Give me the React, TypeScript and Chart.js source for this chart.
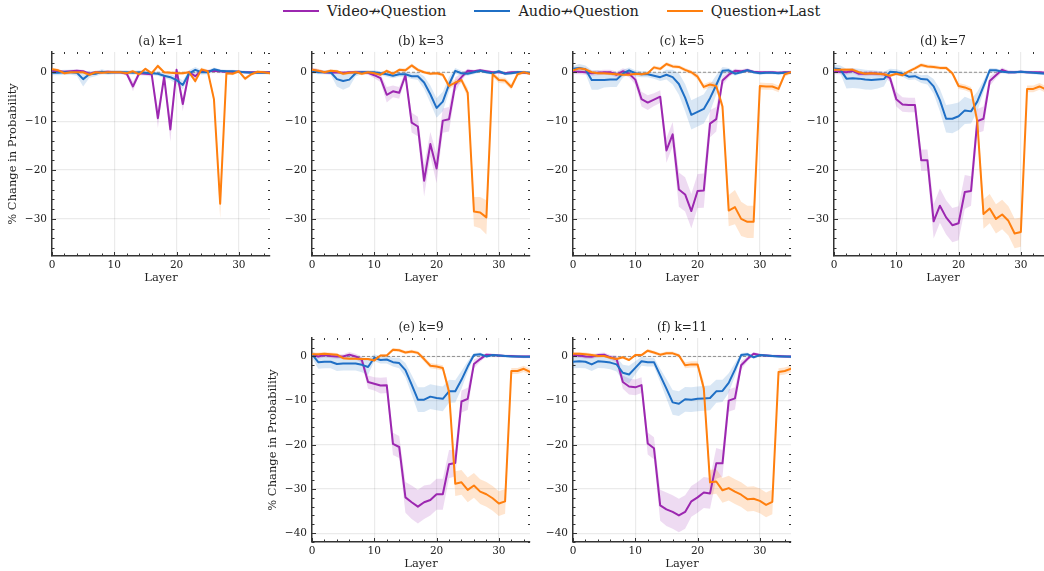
import React, { useEffect, useRef } from 'react';
import { Chart, registerables } from 'chart.js';

Chart.register(...registerables);

const FONT = "'DejaVu Serif', serif";
const TEXT = '#222222';

// ---------- categories / ticks ----------
const layers = [0,1,2,3,4,5,6,7,8,9,10,11,12,13,14,15,16,17,18,19,20,21,22,23,24,25,26,27,28,29,30,31,32,33,34,35];
const xTickValues = [0, 10, 20, 30];
const yTicksTop = [0, -10, -20, -30];
const yTicksBottom = [0, -10, -20, -30, -40];
const seriesNames = ['Video\u219BQuestion', 'Audio\u219BQuestion', 'Question\u219BLast'];
const seriesColors = ['#9C27B0', '#1F6FC5', '#FF7F0E'];
const bandColors = ['rgba(156,39,176,0.17)', 'rgba(31,111,197,0.17)', 'rgba(255,127,14,0.2)'];
const panelTitles = ['(a) k=1', '(b) k=3', '(c) k=5', '(d) k=7', '(e) k=9', '(f) k=11'];

// ---------- (a) k=1 ----------
const videoK1 = [0.3,0.2,0.1,0.2,0.3,0.2,-0.3,0.0,0.0,0.1,0.0,0.0,-0.3,-2.9,-0.2,-0.3,-0.4,-9.4,-0.9,-11.7,0.5,-6.5,0.0,-0.8,0.3,0.2,0.3,0.2,0.1,0.1,0.1,0.0,0.0,0.0,0.0,0.0];
const audioK1 = [-0.1,-0.1,0.0,0.0,-0.1,-1.4,-0.4,-0.3,0.1,-0.1,0.0,0.0,0.0,-0.1,0.0,-0.1,-0.2,-0.3,-0.7,-1.0,-1.6,-2.6,-0.2,0.5,0.0,0.0,0.6,0.3,0.2,0.2,0.1,0.0,-0.1,-0.1,-0.1,-0.1];
const lastK1 = [0.6,0.4,-0.2,0.0,0.0,0.0,-0.5,0.0,-0.1,0.0,0.0,0.0,-0.2,0.2,-0.4,0.7,-0.2,1.3,0.0,-0.1,-0.2,-0.2,0.0,-1.8,0.6,0.2,-5.5,-26.9,-0.2,-0.3,0.2,-1.3,-0.4,0.1,0.0,-0.2];
const videoErrK1 = [0.4,0.3,0.3,0.3,0.3,0.3,0.3,0.3,0.3,0.3,0.3,0.3,0.4,1.0,0.4,0.4,0.5,2.0,0.8,2.5,0.6,1.5,0.4,0.6,0.3,0.3,0.3,0.3,0.3,0.2,0.2,0.2,0.2,0.2,0.2,0.2];
const audioErrK1 = [0.5,0.5,0.5,0.5,0.6,1.5,0.7,0.5,0.5,0.4,0.4,0.4,0.4,0.4,0.4,0.4,0.4,0.4,0.5,0.6,0.8,0.9,0.6,0.6,0.5,0.4,0.4,0.3,0.3,0.3,0.3,0.3,0.3,0.3,0.3,0.3];
const lastErrK1 = [0.4,0.3,0.3,0.3,0.3,0.3,0.3,0.3,0.3,0.3,0.3,0.3,0.3,0.3,0.3,0.3,0.3,0.4,0.3,0.3,0.3,0.3,0.3,0.5,0.4,0.3,1.0,3.0,0.3,0.3,0.3,0.4,0.3,0.3,0.3,0.3];

// ---------- (b) k=3 ----------
const videoK3 = [0.5,0.2,0.0,-0.1,0.0,-0.1,0.0,0.0,0.0,-0.1,-0.6,-1.2,-4.6,-3.9,-4.2,-0.6,-10.3,-11.1,-22.2,-14.7,-19.7,-9.9,-9.6,-2.5,-1.0,0.3,0.2,0.4,0.2,0.0,0.0,-0.2,0.0,0.0,-0.1,-0.2];
const audioK3 = [0.2,0.0,0.0,0.0,-1.4,-1.8,-1.5,-0.2,0.0,0.0,0.0,-0.2,-0.4,-0.7,-0.4,-0.4,-0.8,-0.8,-2.1,-4.5,-7.3,-6.0,-2.5,0.3,-0.2,-0.3,0.0,0.3,0.0,-0.2,0.2,-0.3,-0.2,0.0,0.0,-0.1];
const lastK3 = [0.5,0.3,0.0,0.3,0.2,-0.3,-0.1,0.0,-0.3,0.0,-0.2,-0.5,0.3,-0.3,0.5,0.4,1.4,0.5,0.0,-0.3,-0.2,-0.5,-2.8,-2.1,-1.6,-4.2,-28.5,-28.7,-29.7,-0.4,-1.6,-1.7,-3.0,-0.4,0.0,-0.3];
const videoErrK3 = [0.5,0.4,0.3,0.3,0.3,0.3,0.3,0.3,0.3,0.4,0.6,0.8,1.6,1.2,1.2,0.8,2.0,2.0,3.2,2.5,3.0,2.5,2.5,1.5,0.8,0.4,0.3,0.3,0.3,0.3,0.3,0.3,0.3,0.3,0.3,0.3];
const audioErrK3 = [0.5,0.4,0.4,0.5,1.5,1.8,1.5,0.6,0.4,0.4,0.4,0.4,0.5,0.5,0.5,0.5,0.6,0.8,1.3,1.8,2.0,2.0,1.5,0.6,0.5,0.4,0.4,0.3,0.3,0.3,0.3,0.3,0.3,0.3,0.3,0.3];
const lastErrK3 = [0.4,0.4,0.3,0.3,0.3,0.3,0.3,0.3,0.3,0.3,0.3,0.3,0.3,0.3,0.3,0.4,0.4,0.4,0.3,0.3,0.3,0.4,0.6,0.6,0.6,1.0,3.0,3.2,3.5,0.5,0.6,0.6,0.6,0.4,0.3,0.3];

// ---------- (c) k=5 ----------
const videoK5 = [0.1,0.1,0.0,-0.2,-0.1,0.0,0.0,-0.5,0.2,-0.3,-1.5,-5.5,-6.2,-5.6,-5.0,-16.0,-12.7,-24.0,-25.0,-28.4,-24.3,-24.2,-10.5,-9.6,-1.7,-0.5,0.3,0.2,0.4,0.1,0.0,0.0,0.0,-0.1,0.0,0.0];
const audioK5 = [0.7,0.9,0.6,-1.6,-1.6,-1.6,-1.5,-1.5,-0.3,0.4,-0.2,-0.4,-0.4,-0.7,-1.0,-0.5,-1.0,-2.4,-5.2,-8.7,-8.1,-7.5,-5.3,-2.6,0.3,0.4,-0.3,0.0,0.4,0.0,-0.2,-0.1,-0.1,-0.2,-0.1,-0.1];
const lastK5 = [0.4,0.8,0.6,0.0,-0.2,-0.2,-0.3,-0.4,-0.5,-0.5,-0.3,-0.4,-0.2,1.0,0.7,1.7,1.2,1.1,0.5,0.0,-0.9,-3.0,-2.5,-2.8,-7.0,-28.3,-27.6,-30.0,-30.6,-30.6,-2.8,-2.9,-2.9,-3.4,-0.4,0.0];
const videoErrK5 = [0.5,0.5,0.5,0.5,0.5,0.5,0.5,0.6,0.6,0.7,1.0,1.5,1.5,1.3,1.3,2.5,2.5,3.5,3.5,3.5,3.5,3.5,2.8,2.5,1.0,0.5,0.4,0.4,0.4,0.3,0.3,0.3,0.3,0.3,0.3,0.3];
const audioErrK5 = [0.6,0.8,0.8,2.0,2.0,1.5,1.5,1.5,0.8,0.6,0.6,0.6,0.6,0.6,0.8,1.0,1.5,2.2,2.8,3.0,3.0,3.0,2.8,2.0,0.8,0.5,0.4,0.3,0.3,0.3,0.3,0.3,0.3,0.3,0.3,0.3];
const lastErrK5 = [0.4,0.4,0.4,0.3,0.3,0.3,0.3,0.3,0.3,0.3,0.3,0.3,0.3,0.4,0.4,0.4,0.4,0.4,0.4,0.4,0.6,0.6,0.6,0.6,1.0,3.2,3.5,3.5,3.3,3.3,0.7,0.7,0.7,0.7,0.5,0.3];

// ---------- (d) k=7 ----------
const videoK7 = [0.1,0.1,0.0,0.3,-0.3,-0.3,-0.2,-0.3,-0.4,-1.2,-5.5,-6.6,-6.7,-6.7,-18.0,-18.0,-30.5,-27.3,-29.7,-31.3,-30.9,-24.5,-24.3,-10.0,-9.5,-1.8,-0.6,0.5,0.0,0.0,0.1,0.0,0.0,0.0,-0.1,-0.1];
const audioK7 = [0.8,0.6,-1.3,-1.2,-1.3,-1.5,-1.6,-1.5,-1.4,0.1,0.0,-0.3,-0.9,-0.8,-1.4,-1.5,-2.9,-5.7,-9.5,-9.5,-9.0,-7.8,-8.0,-6.0,-2.9,0.4,0.4,0.1,0.0,0.0,0.1,0.0,-0.1,-0.2,-0.3,-0.3];
const lastK7 = [0.5,0.5,0.5,0.5,0.0,-0.3,-0.2,-0.3,-0.4,-0.7,-0.3,-0.6,0.2,0.8,1.5,1.2,1.1,0.9,0.9,-0.2,-2.8,-3.1,-3.6,-10.0,-29.0,-27.9,-30.0,-29.1,-30.4,-33.0,-32.7,-3.4,-3.4,-2.9,-3.5,-3.6];
const videoErrK7 = [0.5,0.5,0.5,0.5,0.5,0.5,0.5,0.5,0.5,0.8,1.5,1.5,1.5,1.5,2.2,2.2,3.5,3.5,3.5,3.5,3.5,3.5,3.0,2.5,2.5,1.0,0.6,0.5,0.4,0.3,0.3,0.3,0.3,0.3,0.3,0.3];
const audioErrK7 = [0.8,0.8,2.0,2.0,2.0,2.0,2.0,1.8,1.5,0.6,0.6,0.6,0.7,0.7,0.8,1.0,1.5,2.3,2.8,3.0,2.8,2.8,2.5,2.0,1.2,0.5,0.4,0.3,0.3,0.3,0.3,0.3,0.3,0.3,0.3,0.3];
const lastErrK7 = [0.4,0.4,0.4,0.4,0.3,0.3,0.3,0.3,0.3,0.3,0.3,0.3,0.3,0.4,0.4,0.4,0.4,0.4,0.4,0.4,0.6,0.6,0.6,1.5,3.0,3.0,3.0,3.0,3.0,3.0,3.0,0.7,0.7,0.7,0.7,0.7];

// ---------- (e) k=9 ----------
const videoK9 = [0.3,0.0,0.3,0.1,0.0,0.0,0.4,0.0,-0.8,-5.8,-6.2,-6.6,-6.5,-19.8,-20.5,-31.9,-33.0,-34.0,-33.0,-32.5,-31.2,-31.2,-24.4,-24.1,-10.2,-9.6,-1.7,-0.6,0.4,0.3,0.2,0.1,0.1,0.0,0.0,0.0];
const audioK9 = [0.5,-1.3,-1.2,-1.2,-1.7,-1.6,-1.6,-1.6,-1.9,-2.4,-0.3,-0.8,-0.7,-1.3,-1.5,-3.1,-6.4,-9.8,-9.8,-9.1,-9.4,-9.6,-7.9,-7.9,-5.3,-2.3,0.3,0.5,0.0,0.3,0.2,0.1,0.0,0.0,-0.1,-0.1];
const lastK9 = [0.5,0.5,0.6,0.5,0.4,-0.4,-0.5,-0.5,-0.6,-0.6,-0.9,0.2,0.2,1.5,1.4,0.9,1.1,0.8,-0.6,-2.1,-2.3,-2.6,-8.0,-28.8,-28.5,-30.2,-29.2,-30.6,-31.2,-32.1,-33.3,-32.8,-3.3,-3.3,-2.8,-3.5];
const videoErrK9 = [0.5,0.5,0.5,0.5,0.5,0.5,0.6,0.6,0.8,1.5,1.5,1.8,1.8,2.5,2.5,3.5,3.8,3.8,3.8,3.5,3.5,3.5,3.2,3.0,2.5,2.5,1.0,0.6,0.4,0.3,0.3,0.3,0.3,0.3,0.3,0.3];
const audioErrK9 = [0.8,1.5,1.5,1.5,1.6,1.6,1.6,1.6,1.7,1.8,0.8,0.8,0.9,1.0,1.2,1.6,2.2,2.8,2.8,2.8,2.8,2.8,2.6,2.5,2.0,1.2,0.5,0.4,0.3,0.3,0.3,0.3,0.3,0.3,0.3,0.3];
const lastErrK9 = [0.4,0.4,0.4,0.4,0.4,0.3,0.3,0.3,0.3,0.3,0.3,0.3,0.3,0.4,0.4,0.4,0.4,0.4,0.6,0.6,0.6,0.6,1.5,2.8,2.8,2.8,2.8,2.8,2.8,2.8,2.8,2.8,0.7,0.7,0.7,0.7];

// ---------- (f) k=11 ----------
const videoK11 = [0.3,0.2,0.0,-0.1,0.3,0.4,-0.2,-0.6,-5.8,-6.8,-7.0,-6.5,-19.7,-20.8,-33.7,-34.6,-35.2,-36.0,-35.2,-32.8,-31.9,-30.8,-31.0,-24.2,-24.2,-10.0,-9.5,-2.0,-0.6,0.6,0.3,0.2,0.1,0.1,0.0,0.0];
const audioK11 = [-1.2,-1.1,-1.2,-1.8,-1.1,-1.2,-1.4,-1.8,-3.7,-4.1,-2.6,-1.1,-1.3,-1.3,-4.3,-7.3,-10.4,-10.7,-9.7,-9.8,-9.6,-9.5,-9.4,-7.9,-7.8,-6.0,-3.0,0.3,0.5,-0.2,0.3,0.2,0.1,0.0,0.0,-0.1];
const lastK11 = [0.6,0.6,0.5,0.3,0.1,0.1,-0.3,-0.6,-0.2,-0.8,0.3,0.3,1.3,0.9,0.4,0.7,0.7,0.2,-2.0,-1.8,-1.8,-7.2,-28.5,-28.3,-30.3,-29.8,-30.6,-31.3,-32.3,-32.2,-32.7,-33.6,-32.9,-3.5,-3.3,-2.8];
const videoErrK11 = [0.5,0.5,0.5,0.5,0.5,0.5,0.5,0.8,1.5,1.8,1.8,1.8,2.5,2.5,3.5,3.8,3.8,3.8,3.8,3.5,3.5,3.5,3.5,3.5,3.0,2.5,2.5,1.0,0.5,0.4,0.3,0.3,0.3,0.3,0.3,0.3];
const audioErrK11 = [1.5,1.5,1.5,1.5,1.5,1.5,1.5,1.6,1.8,2.0,1.5,1.0,1.0,1.0,1.5,2.2,2.8,2.8,2.8,2.8,2.8,2.8,2.8,2.6,2.5,2.2,1.5,0.5,0.4,0.3,0.3,0.3,0.3,0.3,0.3,0.3];
const lastErrK11 = [0.4,0.4,0.4,0.4,0.4,0.3,0.3,0.3,0.3,0.3,0.3,0.3,0.4,0.4,0.4,0.4,0.4,0.4,0.7,0.7,0.7,1.5,2.8,2.8,2.8,2.8,2.8,2.8,2.8,2.8,2.8,2.8,2.8,0.8,0.8,0.8];

// ---------- layout (styles, not data) ----------
const PLOT_W = 218;
const PLOT_H = 204;
const PAD_L = 52;
const PAD_R = 8;
const PAD_T = 28;
const PAD_B = 34;

type PanelCfg = {
  title: string;
  vals: number[][];
  errs: number[][];
  plotLeft: number;
  plotTop: number;
  yMin: number;
  yMax: number;
  yTicks: number[];
  yLabel: boolean;
};

const panels: PanelCfg[] = [
  { title: panelTitles[0], vals: [videoK1, audioK1, lastK1], errs: [videoErrK1, audioErrK1, lastErrK1], plotLeft: 52, plotTop: 52, yMin: -37.6, yMax: 4.15, yTicks: yTicksTop, yLabel: true },
  { title: panelTitles[1], vals: [videoK3, audioK3, lastK3], errs: [videoErrK3, audioErrK3, lastErrK3], plotLeft: 312, plotTop: 52, yMin: -37.6, yMax: 4.15, yTicks: yTicksTop, yLabel: false },
  { title: panelTitles[2], vals: [videoK5, audioK5, lastK5], errs: [videoErrK5, audioErrK5, lastErrK5], plotLeft: 573, plotTop: 52, yMin: -37.6, yMax: 4.15, yTicks: yTicksTop, yLabel: false },
  { title: panelTitles[3], vals: [videoK7, audioK7, lastK7], errs: [videoErrK7, audioErrK7, lastErrK7], plotLeft: 834, plotTop: 52, yMin: -37.6, yMax: 4.15, yTicks: yTicksTop, yLabel: false },
  { title: panelTitles[4], vals: [videoK9, audioK9, lastK9], errs: [videoErrK9, audioErrK9, lastErrK9], plotLeft: 312, plotTop: 338, yMin: -42.0, yMax: 4.17, yTicks: yTicksBottom, yLabel: true },
  { title: panelTitles[5], vals: [videoK11, audioK11, lastK11], errs: [videoErrK11, audioErrK11, lastErrK11], plotLeft: 573, plotTop: 338, yMin: -42.0, yMax: 4.17, yTicks: yTicksBottom, yLabel: false },
];

const fmt = (v: number | string) => {
  const n = Number(v);
  return n < 0 ? '\u2212' + Math.abs(n) : String(n);
};

const zeroLinePlugin = {
  id: 'zeroLine',
  beforeDatasetsDraw(chart: any) {
    const { ctx, chartArea, scales } = chart;
    const y = scales.y.getPixelForValue(0);
    ctx.save();
    ctx.strokeStyle = 'rgba(120,120,120,0.8)';
    ctx.lineWidth = 1;
    ctx.setLineDash([3, 2]);
    ctx.beginPath();
    ctx.moveTo(chartArea.left, y);
    ctx.lineTo(chartArea.right, y);
    ctx.stroke();
    ctx.restore();
  },
};

const inTicksPlugin = {
  id: 'inTicks',
  afterDraw(chart: any) {
    const { ctx, chartArea, scales } = chart;
    const { left, right, top, bottom } = chartArea;
    const x = scales.x;
    const y = scales.y;
    ctx.save();
    ctx.strokeStyle = '#333';
    ctx.lineWidth = 1;
    ctx.beginPath();
    for (let v = Math.ceil(x.min / 2) * 2; v <= x.max; v += 2) {
      const px = Math.round(x.getPixelForValue(v)) + 0.5;
      const major = v % 10 === 0;
      ctx.moveTo(px, bottom);
      ctx.lineTo(px, bottom - (major ? 4 : 2.5));
      if (!major) {
        ctx.moveTo(px, top);
        ctx.lineTo(px, top + 2);
      }
    }
    for (let v = Math.ceil(y.min / 2) * 2; v <= y.max; v += 2) {
      const py = Math.round(y.getPixelForValue(v)) + 0.5;
      const major = v % 10 === 0;
      ctx.moveTo(left, py);
      ctx.lineTo(left + (major ? 4 : 2.5), py);
      if (!major) {
        ctx.moveTo(right, py);
        ctx.lineTo(right - 2, py);
      }
    }
    ctx.stroke();
    ctx.restore();
  },
};

function Panel({ cfg }: { cfg: PanelCfg }) {
  const ref = useRef<HTMLCanvasElement>(null);
  useEffect(() => {
    if (!ref.current) return;
    const datasets: any[] = [];
    cfg.vals.forEach((vals, i) => {
      const err = cfg.errs[i];
      datasets.push({
        label: seriesNames[i] + ' upper',
        data: layers.map((l, j) => ({ x: l, y: vals[j] + err[j] })),
        borderColor: 'transparent',
        borderWidth: 0,
        pointRadius: 0,
        backgroundColor: bandColors[i],
        fill: '+1',
        order: 20 - i,
      });
      datasets.push({
        label: seriesNames[i] + ' lower',
        data: layers.map((l, j) => ({ x: l, y: vals[j] - err[j] })),
        borderColor: 'transparent',
        borderWidth: 0,
        pointRadius: 0,
        fill: false,
        order: 20 - i,
      });
    });
    cfg.vals.forEach((vals, i) => {
      datasets.push({
        label: seriesNames[i],
        data: layers.map((l, j) => ({ x: l, y: vals[j] })),
        borderColor: seriesColors[i],
        backgroundColor: seriesColors[i],
        borderWidth: 2,
        pointRadius: 0,
        fill: false,
        tension: 0,
        borderJoinStyle: 'round',
        borderCapStyle: 'round',
        order: 5 - i,
      });
    });

    const tickFont = { family: FONT, size: 10.5 };
    const labelFont = { family: FONT, size: 11.5 };

    const chart = new Chart(ref.current, {
      type: 'line',
      data: { datasets },
      plugins: [zeroLinePlugin, inTicksPlugin],
      options: {
        animation: false,
        responsive: false,
        events: [],
        layout: { padding: { top: 0, right: PAD_R, bottom: 0, left: 0 } },
        plugins: {
          legend: { display: false },
          tooltip: { enabled: false },
          title: {
            display: true,
            text: cfg.title,
            fullSize: false,
            color: TEXT,
            font: { family: FONT, size: 12, weight: 'normal' },
            padding: { top: 10.8, bottom: 2.8 },
          },
        },
        scales: {
          x: {
            type: 'linear',
            min: 0,
            max: 35,
            afterBuildTicks: (s: any) => {
              s.ticks = xTickValues.map((v) => ({ value: v }));
            },
            afterFit: (s: any) => {
              s.height = PAD_B;
            },
            grid: { color: 'rgba(0,0,0,0.08)', lineWidth: 1.2, drawTicks: false },
            border: { display: true, color: '#333', width: 1.5 },
            ticks: { padding: 3, font: tickFont, color: TEXT, maxRotation: 0, autoSkip: false, callback: (v: any) => fmt(v) },
            title: { display: true, text: 'Layer', color: TEXT, font: labelFont, padding: { top: 0, bottom: 4.6 } },
          },
          y: {
            type: 'linear',
            min: cfg.yMin,
            max: cfg.yMax,
            afterBuildTicks: (s: any) => {
              s.ticks = cfg.yTicks.map((v) => ({ value: v }));
            },
            afterFit: (s: any) => {
              s.width = PAD_L;
            },
            grid: { color: 'rgba(0,0,0,0.08)', lineWidth: 1.2, drawTicks: false },
            border: { display: true, color: '#333', width: 1.5 },
            ticks: { padding: 5, font: tickFont, color: TEXT, autoSkip: false, callback: (v: any) => fmt(v) },
            title: {
              display: cfg.yLabel,
              text: '% Change in Probability',
              color: TEXT,
              font: labelFont,
              padding: { top: 6.1, bottom: 0 },
            },
          },
        },
      } as any,
    });
    return () => chart.destroy();
  }, [cfg]);

  const w = PAD_L + PLOT_W + PAD_R;
  const h = PAD_T + PLOT_H + PAD_B;
  return (
    <canvas
      ref={ref}
      width={w}
      height={h}
      style={{ position: 'absolute', left: cfg.plotLeft - PAD_L, top: cfg.plotTop - PAD_T, width: w, height: h }}
    />
  );
}

function Legend() {
  return (
    <div
      style={{
        position: 'absolute',
        left: 283,
        top: 2,
        height: 18,
        display: 'flex',
        alignItems: 'center',
        fontFamily: FONT,
        fontSize: 14.5,
        color: TEXT,
        whiteSpace: 'nowrap',
      }}
    >
      {seriesNames.map((name, i) => (
        <div key={name} style={{ display: 'flex', alignItems: 'center', marginRight: 28 }}>
          <div style={{ width: 36, height: 2, background: seriesColors[i], marginRight: 8 }} />
          <span>{name}</span>
        </div>
      ))}
    </div>
  );
}

export default function App() {
  return (
    <div
      style={{
        position: 'fixed',
        left: 0,
        top: 0,
        width: 1044,
        height: 571,
        overflow: 'hidden',
        background: '#ffffff',
      }}
    >
      <Legend />
      {panels.map((p) => (
        <Panel key={p.title} cfg={p} />
      ))}
    </div>
  );
}
